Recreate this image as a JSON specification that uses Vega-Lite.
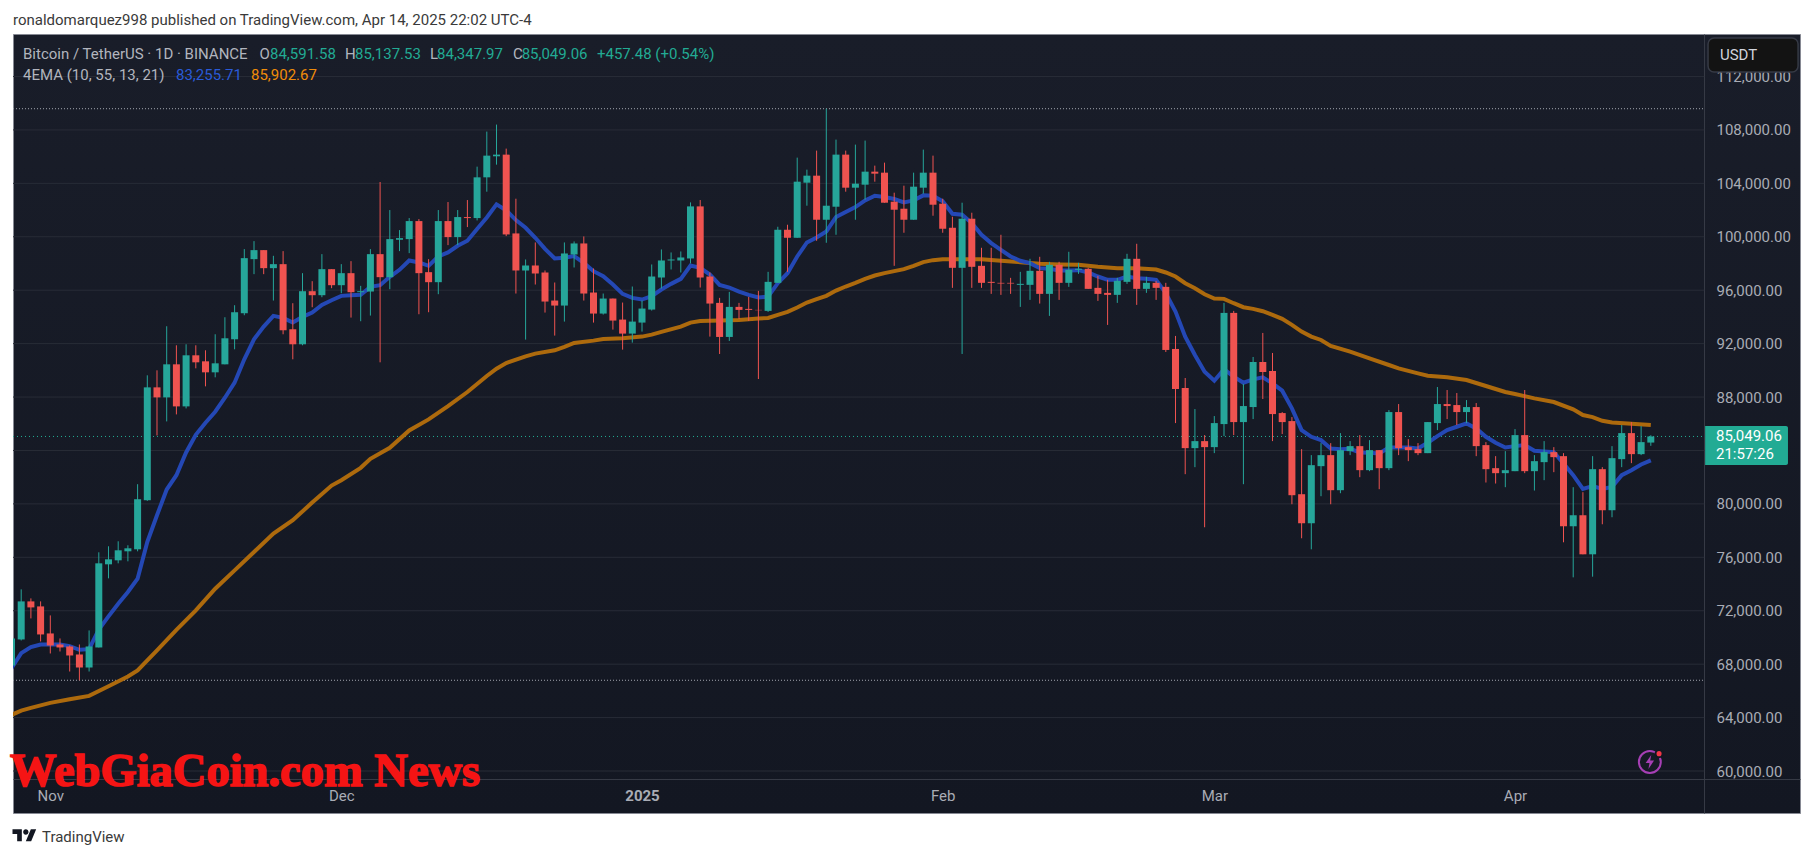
{
  "$schema": "https://vega.github.io/schema/vega-lite/v6.json",
  "width": 1787,
  "height": 779,
  "autosize": "none",
  "padding": {"left": 13, "top": 34, "right": 14, "bottom": 45},
  "background": "white",
  "view": {
    "stroke": "#868993",
    "strokeWidth": 1,
    "fill": {"gradient": "linear", "x1": 0, "y1": 0, "x2": 0, "y2": 1, "stops": [{"offset": 0, "color": "#191d29"}, {"offset": 1, "color": "#131722"}]}
  },
  "datasets": {
    "candles": [
      {"date":"2024-10-28","open":67900,"high":70200,"low":67700,"close":69925},
      {"date":"2024-10-29","open":69850,"high":73600,"low":69775,"close":72700},
      {"date":"2024-10-30","open":72700,"high":72925,"low":71425,"close":72250},
      {"date":"2024-10-31","open":72325,"high":72700,"low":69700,"close":70225},
      {"date":"2024-11-01","open":70300,"high":71650,"low":68800,"close":69400},
      {"date":"2024-11-02","open":69475,"high":69925,"low":68950,"close":69250},
      {"date":"2024-11-03","open":69325,"high":69400,"low":67450,"close":68650},
      {"date":"2024-11-04","open":68725,"high":69475,"low":66794,"close":67750},
      {"date":"2024-11-05","open":67750,"high":70525,"low":67450,"close":69325},
      {"date":"2024-11-06","open":69250,"high":76375,"low":69250,"close":75550},
      {"date":"2024-11-07","open":75475,"high":76825,"low":74425,"close":75850},
      {"date":"2024-11-08","open":75775,"high":77200,"low":75550,"close":76525},
      {"date":"2024-11-09","open":76450,"high":76900,"low":75700,"close":76675},
      {"date":"2024-11-10","open":76600,"high":81475,"low":76450,"close":80350},
      {"date":"2024-11-11","open":80275,"high":89625,"low":80225,"close":88725},
      {"date":"2024-11-12","open":88725,"high":90000,"low":85125,"close":87975},
      {"date":"2024-11-13","open":87975,"high":93300,"low":86175,"close":90450},
      {"date":"2024-11-14","open":90450,"high":91875,"low":86700,"close":87300},
      {"date":"2024-11-15","open":87300,"high":91950,"low":87150,"close":91125},
      {"date":"2024-11-16","open":91125,"high":91875,"low":90150,"close":90600},
      {"date":"2024-11-17","open":90675,"high":91500,"low":88800,"close":89850},
      {"date":"2024-11-18","open":89850,"high":92700,"low":89475,"close":90525},
      {"date":"2024-11-19","open":90450,"high":93975,"low":90450,"close":92400},
      {"date":"2024-11-20","open":92325,"high":94875,"low":91575,"close":94350},
      {"date":"2024-11-21","open":94275,"high":99075,"low":94125,"close":98400},
      {"date":"2024-11-22","open":98325,"high":99675,"low":97200,"close":99000},
      {"date":"2024-11-23","open":99000,"high":99000,"low":97200,"close":97650},
      {"date":"2024-11-24","open":97650,"high":98575,"low":95225,"close":97950},
      {"date":"2024-11-25","open":97950,"high":98925,"low":92700,"close":93000},
      {"date":"2024-11-26","open":93075,"high":95025,"low":90825,"close":91950},
      {"date":"2024-11-27","open":91950,"high":97275,"low":91875,"close":95925},
      {"date":"2024-11-28","open":95925,"high":96675,"low":94725,"close":95625},
      {"date":"2024-11-29","open":95625,"high":98700,"low":95475,"close":97575},
      {"date":"2024-11-30","open":97575,"high":97575,"low":96150,"close":96375},
      {"date":"2024-12-01","open":96375,"high":97950,"low":95775,"close":97275},
      {"date":"2024-12-02","open":97275,"high":98175,"low":93950,"close":95850},
      {"date":"2024-12-03","open":95850,"high":96325,"low":93675,"close":95925},
      {"date":"2024-12-04","open":95900,"high":99075,"low":94100,"close":98700},
      {"date":"2024-12-05","open":98700,"high":104100,"low":90600,"close":96975},
      {"date":"2024-12-06","open":96975,"high":102000,"low":96075,"close":99825},
      {"date":"2024-12-07","open":99775,"high":100500,"low":98925,"close":99900},
      {"date":"2024-12-08","open":99825,"high":101400,"low":98775,"close":101175},
      {"date":"2024-12-09","open":101175,"high":101325,"low":94200,"close":97275},
      {"date":"2024-12-10","open":97350,"high":98325,"low":94350,"close":96600},
      {"date":"2024-12-11","open":96600,"high":102000,"low":95700,"close":101175},
      {"date":"2024-12-12","open":101175,"high":102600,"low":99375,"close":99975},
      {"date":"2024-12-13","open":99975,"high":102000,"low":99375,"close":101475},
      {"date":"2024-12-14","open":101475,"high":102750,"low":100725,"close":101400},
      {"date":"2024-12-15","open":101400,"high":105250,"low":101225,"close":104450},
      {"date":"2024-12-16","open":104450,"high":107875,"low":103375,"close":106075},
      {"date":"2024-12-17","open":106025,"high":108400,"low":105400,"close":106150},
      {"date":"2024-12-18","open":106150,"high":106600,"low":100050,"close":100175},
      {"date":"2024-12-19","open":100250,"high":102850,"low":95750,"close":97475},
      {"date":"2024-12-20","open":97475,"high":98300,"low":92300,"close":97850},
      {"date":"2024-12-21","open":97850,"high":99575,"low":96425,"close":97250},
      {"date":"2024-12-22","open":97325,"high":97475,"low":94325,"close":95150},
      {"date":"2024-12-23","open":95225,"high":96575,"low":92600,"close":94850},
      {"date":"2024-12-24","open":94850,"high":99575,"low":93650,"close":98750},
      {"date":"2024-12-25","open":98675,"high":99650,"low":97700,"close":99500},
      {"date":"2024-12-26","open":99500,"high":100025,"low":95225,"close":95750},
      {"date":"2024-12-27","open":95825,"high":97625,"low":93575,"close":94250},
      {"date":"2024-12-28","open":94250,"high":95750,"low":94175,"close":95375},
      {"date":"2024-12-29","open":95375,"high":95375,"low":93050,"close":93725},
      {"date":"2024-12-30","open":93800,"high":95075,"low":91550,"close":92750},
      {"date":"2024-12-31","open":92750,"high":96275,"low":92075,"close":93650},
      {"date":"2025-01-01","open":93575,"high":95225,"low":92900,"close":94625},
      {"date":"2025-01-02","open":94550,"high":97925,"low":94475,"close":97025},
      {"date":"2025-01-03","open":96950,"high":99050,"low":96125,"close":98225},
      {"date":"2025-01-04","open":98225,"high":98825,"low":97550,"close":98300},
      {"date":"2025-01-05","open":98225,"high":98900,"low":97325,"close":98450},
      {"date":"2025-01-06","open":98375,"high":102575,"low":98000,"close":102275},
      {"date":"2025-01-07","open":102275,"high":102750,"low":96200,"close":96950},
      {"date":"2025-01-08","open":97025,"high":97325,"low":92525,"close":95000},
      {"date":"2025-01-09","open":95050,"high":95425,"low":91225,"close":92500},
      {"date":"2025-01-10","open":92500,"high":95875,"low":92200,"close":94750},
      {"date":"2025-01-11","open":94750,"high":95050,"low":93850,"close":94525},
      {"date":"2025-01-12","open":94600,"high":95500,"low":93700,"close":94525},
      {"date":"2025-01-13","open":94525,"high":95950,"low":89350,"close":94500},
      {"date":"2025-01-14","open":94450,"high":97375,"low":94375,"close":96625},
      {"date":"2025-01-15","open":96550,"high":100750,"low":96550,"close":100525},
      {"date":"2025-01-16","open":100525,"high":100900,"low":97375,"close":99925},
      {"date":"2025-01-17","open":99925,"high":105925,"low":99925,"close":104125},
      {"date":"2025-01-18","open":104050,"high":105025,"low":102325,"close":104575},
      {"date":"2025-01-19","open":104575,"high":106450,"low":99700,"close":101275},
      {"date":"2025-01-20","open":101275,"high":109588,"low":99550,"close":102325},
      {"date":"2025-01-21","open":102250,"high":107275,"low":100150,"close":106150},
      {"date":"2025-01-22","open":106150,"high":106450,"low":103375,"close":103675},
      {"date":"2025-01-23","open":103675,"high":106900,"low":101275,"close":103975},
      {"date":"2025-01-24","open":103900,"high":107200,"low":102775,"close":104875},
      {"date":"2025-01-25","open":104875,"high":105325,"low":104125,"close":104725},
      {"date":"2025-01-26","open":104800,"high":105550,"low":102550,"close":102550},
      {"date":"2025-01-27","open":102625,"high":103300,"low":97825,"close":102025},
      {"date":"2025-01-28","open":102100,"high":103825,"low":100300,"close":101275},
      {"date":"2025-01-29","open":101275,"high":104800,"low":101275,"close":103750},
      {"date":"2025-01-30","open":103675,"high":106525,"low":103225,"close":104800},
      {"date":"2025-01-31","open":104800,"high":106075,"low":101575,"close":102400},
      {"date":"2025-02-01","open":102475,"high":102850,"low":100300,"close":100600},
      {"date":"2025-02-02","open":100675,"high":101500,"low":96175,"close":97675},
      {"date":"2025-02-03","open":97675,"high":102550,"low":91225,"close":101350},
      {"date":"2025-02-04","open":101350,"high":101800,"low":96175,"close":97750},
      {"date":"2025-02-05","open":97825,"high":99175,"low":96175,"close":96550},
      {"date":"2025-02-06","open":96625,"high":99175,"low":95725,"close":96550},
      {"date":"2025-02-07","open":96550,"high":100150,"low":95650,"close":96500},
      {"date":"2025-02-08","open":96550,"high":96925,"low":95725,"close":96500},
      {"date":"2025-02-09","open":96400,"high":97375,"low":94750,"close":96475},
      {"date":"2025-02-10","open":96400,"high":98350,"low":95275,"close":97450},
      {"date":"2025-02-11","open":97450,"high":98500,"low":95000,"close":95725},
      {"date":"2025-02-12","open":95725,"high":98125,"low":94075,"close":97900},
      {"date":"2025-02-13","open":97900,"high":98125,"low":95275,"close":96550},
      {"date":"2025-02-14","open":96550,"high":98875,"low":96250,"close":97525},
      {"date":"2025-02-15","open":97525,"high":98050,"low":97225,"close":97600},
      {"date":"2025-02-16","open":97600,"high":97675,"low":96100,"close":96100},
      {"date":"2025-02-17","open":96175,"high":97075,"low":95200,"close":95725},
      {"date":"2025-02-18","open":95800,"high":96775,"low":93400,"close":95650},
      {"date":"2025-02-19","open":95650,"high":96925,"low":95050,"close":96700},
      {"date":"2025-02-20","open":96625,"high":98725,"low":96475,"close":98350},
      {"date":"2025-02-21","open":98350,"high":99475,"low":94900,"close":96100},
      {"date":"2025-02-22","open":96100,"high":97000,"low":95800,"close":96550},
      {"date":"2025-02-23","open":96550,"high":96700,"low":95275,"close":96175},
      {"date":"2025-02-24","open":96250,"high":96550,"low":91375,"close":91525},
      {"date":"2025-02-25","open":91600,"high":92575,"low":86050,"close":88600},
      {"date":"2025-02-26","open":88675,"high":89425,"low":82225,"close":84175},
      {"date":"2025-02-27","open":84175,"high":87100,"low":82750,"close":84700},
      {"date":"2025-02-28","open":84700,"high":85150,"low":78250,"close":84250},
      {"date":"2025-03-01","open":84250,"high":86575,"low":83800,"close":86050},
      {"date":"2025-03-02","open":85975,"high":95050,"low":85075,"close":94300},
      {"date":"2025-03-03","open":94300,"high":94450,"low":85150,"close":86125},
      {"date":"2025-03-04","open":86125,"high":88975,"low":81475,"close":87325},
      {"date":"2025-03-05","open":87250,"high":91000,"low":86350,"close":90625},
      {"date":"2025-03-06","open":90625,"high":92800,"low":87850,"close":89875},
      {"date":"2025-03-07","open":89950,"high":91300,"low":84700,"close":86725},
      {"date":"2025-03-08","open":86800,"high":86875,"low":85225,"close":86125},
      {"date":"2025-03-09","open":86200,"high":86500,"low":79975,"close":80650},
      {"date":"2025-03-10","open":80725,"high":84100,"low":77425,"close":78550},
      {"date":"2025-03-11","open":78550,"high":83650,"low":76600,"close":82900},
      {"date":"2025-03-12","open":82825,"high":84550,"low":80575,"close":83650},
      {"date":"2025-03-13","open":83650,"high":84550,"low":79975,"close":81025},
      {"date":"2025-03-14","open":81025,"high":85300,"low":80800,"close":84025},
      {"date":"2025-03-15","open":83950,"high":84700,"low":83650,"close":84325},
      {"date":"2025-03-16","open":84325,"high":85150,"low":82000,"close":82525},
      {"date":"2025-03-17","open":82525,"high":84775,"low":82450,"close":84025},
      {"date":"2025-03-18","open":84025,"high":84025,"low":81100,"close":82675},
      {"date":"2025-03-19","open":82675,"high":87025,"low":82525,"close":86875},
      {"date":"2025-03-20","open":86875,"high":87475,"low":83650,"close":84175},
      {"date":"2025-03-21","open":84250,"high":84850,"low":83200,"close":84025},
      {"date":"2025-03-22","open":84100,"high":84550,"low":83650,"close":83800},
      {"date":"2025-03-23","open":83800,"high":86125,"low":83800,"close":86125},
      {"date":"2025-03-24","open":86050,"high":88750,"low":85525,"close":87475},
      {"date":"2025-03-25","open":87475,"high":88525,"low":86350,"close":87325},
      {"date":"2025-03-26","open":87400,"high":88300,"low":85900,"close":86875},
      {"date":"2025-03-27","open":86875,"high":87775,"low":86050,"close":87250},
      {"date":"2025-03-28","open":87250,"high":87550,"low":83575,"close":84325},
      {"date":"2025-03-29","open":84400,"high":84625,"low":81600,"close":82600},
      {"date":"2025-03-30","open":82675,"high":83575,"low":81525,"close":82300},
      {"date":"2025-03-31","open":82300,"high":83950,"low":81250,"close":82525},
      {"date":"2025-04-01","open":82450,"high":85600,"low":82450,"close":85150},
      {"date":"2025-04-02","open":85150,"high":88525,"low":82300,"close":82450},
      {"date":"2025-04-03","open":82450,"high":83650,"low":81000,"close":83200},
      {"date":"2025-04-04","open":83125,"high":84700,"low":81775,"close":83875},
      {"date":"2025-04-05","open":83875,"high":84250,"low":82375,"close":83500},
      {"date":"2025-04-06","open":83575,"high":83800,"low":77125,"close":78325},
      {"date":"2025-04-07","open":78325,"high":81250,"low":74500,"close":79150},
      {"date":"2025-04-08","open":79150,"high":80875,"low":76225,"close":76225},
      {"date":"2025-04-09","open":76225,"high":83575,"low":74550,"close":82600},
      {"date":"2025-04-10","open":82600,"high":82750,"low":78475,"close":79525},
      {"date":"2025-04-11","open":79525,"high":84325,"low":79000,"close":83425},
      {"date":"2025-04-12","open":83350,"high":85900,"low":82750,"close":85300},
      {"date":"2025-04-13","open":85300,"high":86125,"low":83050,"close":83725},
      {"date":"2025-04-14","open":83725,"high":85825,"low":83650,"close":84625},
      {"date":"2025-04-15","open":84591.58,"high":85137.53,"low":84347.97,"close":85049.06}
    ],
    "ema10": [
      {"date":"2024-10-28","price":67700},{"date":"2024-10-29","price":68825},{"date":"2024-10-30","price":69275},{"date":"2024-10-31","price":69475},
      {"date":"2024-11-01","price":69475},{"date":"2024-11-02","price":69475},{"date":"2024-11-03","price":69350},{"date":"2024-11-04","price":69075},{"date":"2024-11-05","price":69125},{"date":"2024-11-06","price":70600},{"date":"2024-11-07","price":71575},{"date":"2024-11-08","price":72525},{"date":"2024-11-09","price":73400},{"date":"2024-11-10","price":74400},{"date":"2024-11-11","price":77150},{"date":"2024-11-12","price":79150},{"date":"2024-11-13","price":81075},{"date":"2024-11-14","price":82150},{"date":"2024-11-15","price":83850},{"date":"2024-11-16","price":85175},{"date":"2024-11-17","price":86075},{"date":"2024-11-18","price":86900},{"date":"2024-11-19","price":87950},{"date":"2024-11-20","price":89075},{"date":"2024-11-21","price":90825},{"date":"2024-11-22","price":92325},{"date":"2024-11-23","price":93275},{"date":"2024-11-24","price":94075},{"date":"2024-11-25","price":93925},{"date":"2024-11-26","price":93575},{"date":"2024-11-27","price":94000},{"date":"2024-11-28","price":94325},{"date":"2024-11-29","price":94900},{"date":"2024-11-30","price":95250},
      {"date":"2024-12-01","price":95575},{"date":"2024-12-02","price":95625},{"date":"2024-12-03","price":95650},{"date":"2024-12-04","price":96250},{"date":"2024-12-05","price":96375},{"date":"2024-12-06","price":97000},{"date":"2024-12-07","price":97525},{"date":"2024-12-08","price":98225},{"date":"2024-12-09","price":98075},{"date":"2024-12-10","price":97825},{"date":"2024-12-11","price":98525},{"date":"2024-12-12","price":98825},{"date":"2024-12-13","price":99325},{"date":"2024-12-14","price":99700},{"date":"2024-12-15","price":100575},{"date":"2024-12-16","price":101450},{"date":"2024-12-17","price":102425},{"date":"2024-12-18","price":101975},{"date":"2024-12-19","price":101250},{"date":"2024-12-20","price":100675},{"date":"2024-12-21","price":99925},{"date":"2024-12-22","price":99100},{"date":"2024-12-23","price":98375},{"date":"2024-12-24","price":98425},{"date":"2024-12-25","price":98550},{"date":"2024-12-26","price":98050},{"date":"2024-12-27","price":97425},{"date":"2024-12-28","price":97050},{"date":"2024-12-29","price":96425},{"date":"2024-12-30","price":95725},{"date":"2024-12-31","price":95425},
      {"date":"2025-01-01","price":95300},{"date":"2025-01-02","price":95550},{"date":"2025-01-03","price":96050},{"date":"2025-01-04","price":96475},{"date":"2025-01-05","price":96850},{"date":"2025-01-06","price":97850},{"date":"2025-01-07","price":97675},{"date":"2025-01-08","price":97175},{"date":"2025-01-09","price":96400},{"date":"2025-01-10","price":96200},{"date":"2025-01-11","price":95900},{"date":"2025-01-12","price":95650},{"date":"2025-01-13","price":95450},{"date":"2025-01-14","price":95525},{"date":"2025-01-15","price":96525},{"date":"2025-01-16","price":97275},{"date":"2025-01-17","price":98525},{"date":"2025-01-18","price":99575},{"date":"2025-01-19","price":99950},{"date":"2025-01-20","price":100400},{"date":"2025-01-21","price":101475},{"date":"2025-01-22","price":101850},{"date":"2025-01-23","price":102225},{"date":"2025-01-24","price":102725},{"date":"2025-01-25","price":103075},{"date":"2025-01-26","price":102975},{"date":"2025-01-27","price":102825},{"date":"2025-01-28","price":102575},{"date":"2025-01-29","price":102725},{"date":"2025-01-30","price":103100},{"date":"2025-01-31","price":103075},
      {"date":"2025-02-01","price":102650},{"date":"2025-02-02","price":101725},{"date":"2025-02-03","price":101650},{"date":"2025-02-04","price":101025},{"date":"2025-02-05","price":100150},{"date":"2025-02-06","price":99525},{"date":"2025-02-07","price":99025},{"date":"2025-02-08","price":98525},{"date":"2025-02-09","price":98200},{"date":"2025-02-10","price":98025},{"date":"2025-02-11","price":97650},{"date":"2025-02-12","price":97600},{"date":"2025-02-13","price":97475},{"date":"2025-02-14","price":97475},{"date":"2025-02-15","price":97500},{"date":"2025-02-16","price":97325},{"date":"2025-02-17","price":97025},{"date":"2025-02-18","price":96775},{"date":"2025-02-19","price":96775},{"date":"2025-02-20","price":97025},{"date":"2025-02-21","price":96900},{"date":"2025-02-22","price":96850},{"date":"2025-02-23","price":96775},{"date":"2025-02-24","price":95775},{"date":"2025-02-25","price":94400},{"date":"2025-02-26","price":92525},{"date":"2025-02-27","price":91150},{"date":"2025-02-28","price":89900},
      {"date":"2025-03-01","price":89225},{"date":"2025-03-02","price":90075},{"date":"2025-03-03","price":89525},{"date":"2025-03-04","price":89075},{"date":"2025-03-05","price":89325},{"date":"2025-03-06","price":89475},{"date":"2025-03-07","price":89025},{"date":"2025-03-08","price":88475},{"date":"2025-03-09","price":87150},{"date":"2025-03-10","price":85525},{"date":"2025-03-11","price":85025},{"date":"2025-03-12","price":84775},{"date":"2025-03-13","price":84150},{"date":"2025-03-14","price":84100},{"date":"2025-03-15","price":84125},{"date":"2025-03-16","price":83850},{"date":"2025-03-17","price":83825},{"date":"2025-03-18","price":83775},{"date":"2025-03-19","price":84225},{"date":"2025-03-20","price":84225},{"date":"2025-03-21","price":84225},{"date":"2025-03-22","price":84150},{"date":"2025-03-23","price":84575},{"date":"2025-03-24","price":85075},{"date":"2025-03-25","price":85525},{"date":"2025-03-26","price":85775},{"date":"2025-03-27","price":86025},{"date":"2025-03-28","price":85650},{"date":"2025-03-29","price":85025},{"date":"2025-03-30","price":84575},{"date":"2025-03-31","price":84225},
      {"date":"2025-04-01","price":84325},{"date":"2025-04-02","price":84400},{"date":"2025-04-03","price":83975},{"date":"2025-04-04","price":83925},{"date":"2025-04-05","price":83875},{"date":"2025-04-06","price":83025},{"date":"2025-04-07","price":82150},{"date":"2025-04-08","price":81125},{"date":"2025-04-09","price":81325},{"date":"2025-04-10","price":81125},{"date":"2025-04-11","price":81275},{"date":"2025-04-12","price":82150},{"date":"2025-04-13","price":82525},{"date":"2025-04-14","price":82950},{"date":"2025-04-15","price":83255.71}
    ],
    "ema55": [
      {"date":"2024-10-28","price":64200},{"date":"2024-10-29","price":64525},{"date":"2024-10-30","price":64725},{"date":"2024-11-01","price":65100},{"date":"2024-11-03","price":65375},{"date":"2024-11-05","price":65625},{"date":"2024-11-07","price":66350},{"date":"2024-11-09","price":67075},{"date":"2024-11-10","price":67525},{"date":"2024-11-12","price":69025},{"date":"2024-11-14","price":70575},{"date":"2024-11-16","price":72025},{"date":"2024-11-18","price":73650},{"date":"2024-11-20","price":75025},{"date":"2024-11-22","price":76400},{"date":"2024-11-24","price":77775},{"date":"2024-11-26","price":78775},{"date":"2024-11-28","price":80100},{"date":"2024-11-30","price":81375},
      {"date":"2024-12-01","price":81775},{"date":"2024-12-03","price":82700},{"date":"2024-12-04","price":83375},{"date":"2024-12-06","price":84200},{"date":"2024-12-08","price":85500},{"date":"2024-12-10","price":86325},{"date":"2024-12-12","price":87325},{"date":"2024-12-14","price":88375},{"date":"2024-12-16","price":89575},{"date":"2024-12-17","price":90125},{"date":"2024-12-18","price":90550},{"date":"2024-12-20","price":91050},{"date":"2024-12-21","price":91250},{"date":"2024-12-23","price":91500},{"date":"2024-12-24","price":91750},{"date":"2024-12-25","price":92050},{"date":"2024-12-27","price":92225},{"date":"2024-12-28","price":92350},{"date":"2024-12-30","price":92400},
      {"date":"2025-01-01","price":92525},{"date":"2025-01-02","price":92675},{"date":"2025-01-03","price":92875},{"date":"2025-01-05","price":93275},{"date":"2025-01-06","price":93575},{"date":"2025-01-07","price":93700},{"date":"2025-01-09","price":93725},{"date":"2025-01-11","price":93775},{"date":"2025-01-13","price":93875},{"date":"2025-01-14","price":93925},{"date":"2025-01-15","price":94150},{"date":"2025-01-16","price":94375},{"date":"2025-01-17","price":94700},{"date":"2025-01-18","price":95075},{"date":"2025-01-19","price":95325},{"date":"2025-01-20","price":95575},{"date":"2025-01-21","price":95975},{"date":"2025-01-22","price":96275},{"date":"2025-01-23","price":96550},{"date":"2025-01-24","price":96850},{"date":"2025-01-25","price":97100},{"date":"2025-01-26","price":97275},{"date":"2025-01-28","price":97575},{"date":"2025-01-29","price":97825},{"date":"2025-01-30","price":98100},{"date":"2025-01-31","price":98250},
      {"date":"2025-02-01","price":98325},{"date":"2025-02-03","price":98325},{"date":"2025-02-05","price":98325},{"date":"2025-02-07","price":98200},{"date":"2025-02-09","price":98100},{"date":"2025-02-11","price":97975},{"date":"2025-02-13","price":97925},{"date":"2025-02-15","price":97900},{"date":"2025-02-17","price":97750},{"date":"2025-02-19","price":97650},{"date":"2025-02-21","price":97650},{"date":"2025-02-23","price":97550},{"date":"2025-02-24","price":97325},{"date":"2025-02-25","price":97025},{"date":"2025-02-26","price":96525},{"date":"2025-02-27","price":96150},{"date":"2025-02-28","price":95700},
      {"date":"2025-03-01","price":95375},{"date":"2025-03-02","price":95350},{"date":"2025-03-03","price":95025},{"date":"2025-03-04","price":94725},{"date":"2025-03-05","price":94600},{"date":"2025-03-06","price":94425},{"date":"2025-03-07","price":94150},{"date":"2025-03-08","price":93850},{"date":"2025-03-09","price":93400},{"date":"2025-03-10","price":92900},{"date":"2025-03-11","price":92525},{"date":"2025-03-12","price":92275},{"date":"2025-03-13","price":91825},{"date":"2025-03-15","price":91400},{"date":"2025-03-17","price":90900},{"date":"2025-03-19","price":90400},{"date":"2025-03-20","price":90150},{"date":"2025-03-22","price":89775},{"date":"2025-03-23","price":89600},{"date":"2025-03-25","price":89475},{"date":"2025-03-27","price":89275},{"date":"2025-03-29","price":88825},{"date":"2025-03-31","price":88375},
      {"date":"2025-04-01","price":88225},{"date":"2025-04-03","price":87900},{"date":"2025-04-05","price":87625},{"date":"2025-04-07","price":87075},{"date":"2025-04-08","price":86650},{"date":"2025-04-09","price":86500},{"date":"2025-04-10","price":86225},{"date":"2025-04-11","price":86100},{"date":"2025-04-13","price":86000},{"date":"2025-04-15","price":85902.67}
    ],
    "gridY": [
      {"price":60000,"date":"2024-10-28T03:43:00Z","end":"2025-04-20T12:00:00Z"},
      {"price":64000,"date":"2024-10-28T03:43:00Z","end":"2025-04-20T12:00:00Z"},
      {"price":68000,"date":"2024-10-28T03:43:00Z","end":"2025-04-20T12:00:00Z"},
      {"price":72000,"date":"2024-10-28T03:43:00Z","end":"2025-04-20T12:00:00Z"},
      {"price":76000,"date":"2024-10-28T03:43:00Z","end":"2025-04-20T12:00:00Z"},
      {"price":80000,"date":"2024-10-28T03:43:00Z","end":"2025-04-20T12:00:00Z"},
      {"price":84000,"date":"2024-10-28T03:43:00Z","end":"2025-04-20T12:00:00Z"},
      {"price":88000,"date":"2024-10-28T03:43:00Z","end":"2025-04-20T12:00:00Z"},
      {"price":92000,"date":"2024-10-28T03:43:00Z","end":"2025-04-20T12:00:00Z"},
      {"price":96000,"date":"2024-10-28T03:43:00Z","end":"2025-04-20T12:00:00Z"},
      {"price":100000,"date":"2024-10-28T03:43:00Z","end":"2025-04-20T12:00:00Z"},
      {"price":104000,"date":"2024-10-28T03:43:00Z","end":"2025-04-20T12:00:00Z"},
      {"price":108000,"date":"2024-10-28T03:43:00Z","end":"2025-04-20T12:00:00Z"},
      {"price":112000,"date":"2024-10-28T03:43:00Z","end":"2025-04-20T12:00:00Z"}
    ],
    "gridX": [
      {"date":"2024-11-01"},{"date":"2024-12-01"},{"date":"2025-01-01"},{"date":"2025-02-01"},{"date":"2025-03-01"},{"date":"2025-04-01"}
    ],
    "labels": [
      {"text":"ronaldomarquez998 published on TradingView.com, Apr 14, 2025 22:02 UTC-4","date":"2024-10-28T03:43:00Z","price":116230,"tone":"dark"},
      {"text":"TradingView","date":"2024-10-31T03:27:00Z","price":55062,"tone":"dark"},
      {"text":"Bitcoin / TetherUS · 1D · BINANCE","date":"2024-10-29T04:28:00Z","price":113685,"tone":"muted"},
      {"text":"O","date":"2024-11-22T13:36:00Z","price":113685,"tone":"muted"},
      {"text":"84,591.58","date":"2024-11-23T15:34:00Z","price":113685,"tone":"teal"},
      {"text":"H","date":"2024-12-01T09:07:00Z","price":113685,"tone":"muted"},
      {"text":"85,137.53","date":"2024-12-02T09:50:00Z","price":113685,"tone":"teal"},
      {"text":"L","date":"2024-12-10T03:22:00Z","price":113685,"tone":"muted"},
      {"text":"84,347.97","date":"2024-12-10T20:53:00Z","price":113685,"tone":"teal"},
      {"text":"C","date":"2024-12-18T16:48:00Z","price":113685,"tone":"muted"},
      {"text":"85,049.06","date":"2024-12-19T14:10:00Z","price":113685,"tone":"teal"},
      {"text":"+457.48 (+0.54%)","date":"2024-12-27T08:38:00Z","price":113685,"tone":"teal"},
      {"text":"4EMA (10, 55, 13, 21)","date":"2024-10-29T04:28:00Z","price":112112,"tone":"muted"},
      {"text":"83,255.71","date":"2024-11-13T23:02:00Z","price":112112,"tone":"blue"},
      {"text":"85,902.67","date":"2024-11-21T16:34:00Z","price":112112,"tone":"orange"},
      {"text":"USDT","date":"2025-04-22T03:07:00Z","price":113647,"tone":"soft"},
      {"text":"85,049.06","date":"2025-04-21T17:17:00Z","price":85085,"tone":"white"},
      {"text":"21:57:26","date":"2025-04-21T17:17:00Z","price":83737,"tone":"white"}
    ]
  },
  "encoding": {
    "x": {
      "field": "date",
      "type": "temporal",
      "scale": {"type": "utc", "domain": ["2024-10-28T03:43:00Z", "2025-04-30T09:07:00Z"], "padding": 0},
      "axis": {
        "title": null,
        "orient": "bottom",
        "offset": -34,
        "grid": false,
        "ticks": false,
        "zindex": 0,
        "values": ["2024-11-01", "2024-12-01", "2025-01-01", "2025-02-01", "2025-03-01", "2025-04-01"],
        "labelExpr": "utcmonth(datum.value) === 0 ? utcFormat(datum.value, '%Y') : utcFormat(datum.value, '%b')",
        "labelFont": "Roboto",
        "labelFontSize": 15,
        "labelColor": "#a9acb5",
        "labelFontWeight": {"condition": {"test": "utcmonth(datum.value) === 0", "value": "bold"}, "value": "normal"},
        "labelPadding": 9,
        "labelFlush": false,
        "labelOverlap": false,
        "domainColor": "#363a45"
      }
    },
    "y": {
      "field": "price",
      "type": "quantitative",
      "scale": {"domain": [56856, 115182], "nice": false, "zero": false},
      "axis": {
        "title": null,
        "orient": "right",
        "offset": -96,
        "grid": false,
        "ticks": false,
        "zindex": 0,
        "values": [60000, 64000, 68000, 72000, 76000, 80000, 84000, 88000, 92000, 96000, 100000, 104000, 108000, 112000],
        "format": ",.2f",
        "labelFont": "Roboto",
        "labelFontSize": 15,
        "labelColor": "#a9acb5",
        "labelPadding": 12,
        "labelOverlap": false,
        "domainColor": "#363a45"
      }
    }
  },
  "layer": [
    {
      "data": {"name": "gridY"},
      "mark": {"type": "rule", "color": "#282c37", "strokeWidth": 1},
      "encoding": {"x2": {"field": "end"}}
    },
    {
      "data": {"name": "gridX"},
      "mark": {"type": "rule", "color": "#282c37", "strokeWidth": 1},
      "encoding": {"y": {"datum": 59404, "axis": {"title": null}}, "y2": {"datum": 115182}}
    },
    {
      "data": {"values": [
        {"price": 109588, "date": "2024-10-28T03:43:00Z", "end": "2025-04-20T12:00:00Z"},
        {"price": 66794, "date": "2024-10-28T03:43:00Z", "end": "2025-04-20T12:00:00Z"}
      ]},
      "mark": {"type": "rule", "color": "#a3a6af", "strokeWidth": 1, "strokeDash": [1, 2]},
      "encoding": {"x2": {"field": "end"}}
    },
    {
      "data": {"values": [{"price": 85049.06, "date": "2024-10-28T03:43:00Z", "end": "2025-04-20T12:00:00Z"}]},
      "mark": {"type": "rule", "color": "#22ab94", "strokeWidth": 1, "strokeDash": [1, 3]},
      "encoding": {"x2": {"field": "end"}}
    },
    {
      "data": {"name": "ema55"},
      "mark": {"type": "line", "color": "#ad6a0d", "strokeWidth": 4, "clip": true}
    },
    {
      "data": {"name": "ema10"},
      "mark": {"type": "line", "color": "#2448b5", "strokeWidth": 4, "clip": true}
    },
    {
      "data": {"name": "candles"},
      "mark": {"type": "rule", "strokeWidth": 1, "clip": true},
      "encoding": {
        "y": {"field": "low", "type": "quantitative", "axis": {"title": null}},
        "y2": {"field": "high"},
        "color": {"condition": {"test": "datum.close >= datum.open", "value": "#26a69a"}, "value": "#ef5350"}
      }
    },
    {
      "data": {"name": "candles"},
      "mark": {"type": "bar", "size": 7, "clip": true},
      "encoding": {
        "y": {"field": "open", "type": "quantitative", "axis": {"title": null}},
        "y2": {"field": "close"},
        "color": {"condition": {"test": "datum.close >= datum.open", "value": "#26a69a"}, "value": "#ef5350"}
      }
    },
    {
      "data": {"values": [{"date": "2025-04-20T21:36:00Z", "end": "2025-04-30T04:19:00Z", "price": 114883, "low": 112337}]},
      "mark": {"type": "rect", "fill": "#131313", "stroke": "#363a45", "strokeWidth": 1.5, "cornerRadius": 6},
      "encoding": {"x2": {"field": "end"}, "y2": {"field": "low"}}
    },
    {
      "data": {"values": [{"date": "2025-04-20T14:24:00Z", "end": "2025-04-29T03:22:00Z", "price": 85833, "low": 82913}]},
      "mark": {"type": "rect", "fill": "#22ab94", "cornerRadiusTopRight": 2, "cornerRadiusBottomRight": 2},
      "encoding": {"x2": {"field": "end"}, "y2": {"field": "low"}}
    },
    {
      "data": {"values": [{"date": "2025-04-14T21:36:00Z", "price": 60678}]},
      "mark": {"type": "point", "shape": "circle", "size": 480, "stroke": "#a63fb5", "strokeWidth": 2, "fill": "#161a25", "opacity": 1}
    },
    {
      "data": {"values": [{"date": "2025-04-14T21:36:00Z", "price": 60678}]},
      "mark": {"type": "point", "shape": "M0.2 -1L-0.6 0.15H-0.05L-0.2 1L0.6 -0.2H0.05Z", "size": 196, "filled": true, "color": "#a63fb5", "opacity": 1}
    },
    {
      "data": {"values": [{"date": "2025-04-15T20:24:00Z", "price": 61300}]},
      "mark": {"type": "point", "shape": "circle", "size": 50, "fill": "#f23645", "stroke": "#131722", "strokeWidth": 2, "opacity": 1}
    },
    {
      "data": {"values": [{"date": "2024-10-29T08:10:00Z", "price": 55137}]},
      "mark": {"type": "point", "shape": "M-0.222 0.444H-0.611V-0.167H-1V-0.556H-0.222ZM0.556 0.444H0.111L0.528 -0.556H0.972ZM-0.111 -0.333a0.222 0.222 0 1 0 0.444 0a0.222 0.222 0 1 0 -0.444 0Z", "size": 576, "filled": true, "color": "#131722", "opacity": 1}
    },
    {
      "data": {"name": "labels"},
      "mark": {"type": "text", "font": "Roboto", "fontSize": 15, "align": "left", "baseline": "middle"},
      "encoding": {
        "text": {"field": "text"},
        "color": {
          "field": "tone",
          "type": "nominal",
          "legend": null,
          "scale": {
            "domain": ["dark", "muted", "teal", "blue", "orange", "soft", "white"],
            "range": ["#3a3a3a", "#b2b5be", "#22ab94", "#2a5bd8", "#f08c0a", "#d1d4dc", "#ffffff"]
          }
        }
      }
    },
    {
      "data": {"values": [{"text": "WebGiaCoin.com News", "date": "2024-10-27T20:24:00Z", "price": 59900}]},
      "mark": {"type": "text", "font": "Liberation Serif", "fontWeight": "bold", "fontSize": 46.5, "align": "left", "baseline": "middle", "color": "#f51414", "stroke": "#f51414", "strokeWidth": 1.5},
      "encoding": {"text": {"field": "text"}}
    }
  ]
}
